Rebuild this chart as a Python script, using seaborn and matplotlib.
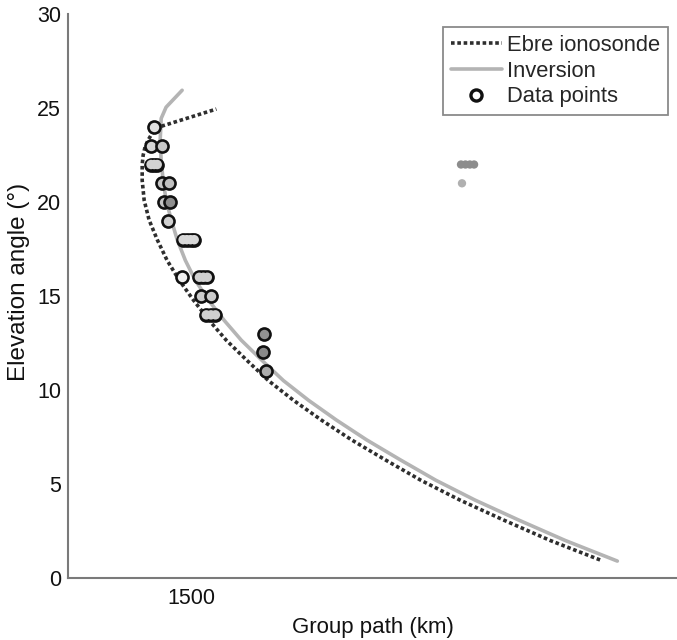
import matplotlib
matplotlib.use("Agg")
import matplotlib.pyplot as plt
import seaborn as sns
import pandas as pd
from matplotlib.lines import Line2D

# ---- data ----
ebre_elev = [0.96, 2.0, 3.1, 4.15, 5.2, 6.3, 7.35, 8.4, 9.45, 10.5, 11.6, 12.65, 13.7,
             14.8, 15.85, 16.9, 18.0, 19.05, 20.1, 21.15, 22.0, 22.5, 22.95, 23.3,
             23.65, 23.95, 24.95]
ebre_gp = [3158, 2955, 2764, 2589, 2431, 2285, 2150, 2028, 1915, 1813, 1724, 1642, 1573,
           1508, 1451, 1402, 1362, 1329, 1309, 1301, 1301, 1305, 1313, 1325,
           1341, 1358, 1602]

inv_elev = [0.9, 2.0, 3.1, 4.15, 5.2, 6.3, 7.35, 8.4, 9.45, 10.5, 11.6, 12.65, 13.7,
            14.8, 15.85, 16.9, 18.0, 19.05, 20.1, 21.15, 22.2, 23.3, 24.45, 25.05, 25.95]
inv_gp = [3228, 3016, 2825, 2650, 2492, 2346, 2211, 2089, 1976, 1874, 1785, 1703, 1634,
          1569, 1516, 1476, 1443, 1419, 1398, 1386, 1378, 1374, 1378, 1398, 1463]

pts_elev = [24, 23, 23, 22, 22, 22, 21, 21, 20, 20, 19, 18, 18, 18, 18,
            16, 16, 16, 16, 15, 15, 14, 14, 14, 13, 12, 11]
pts_gp = [1350, 1337, 1382, 1337, 1350, 1362, 1382, 1411, 1390, 1415, 1406,
          1467, 1482, 1497, 1512, 1463, 1533, 1549, 1565, 1541, 1581,
          1561, 1580, 1598, 1797, 1789, 1805]
pts_group = [1, 2, 3, 4, 4, 4, 5, 6, 7, 8, 9, 10, 10, 10, 10,
             11, 12, 12, 12, 13, 14, 15, 15, 15, 16, 17, 18]
pts_fill = ["#e2e2e2", "#d6d6d6", "#c8c8c8", "#d2d2d2", "#d2d2d2", "#d2d2d2",
            "#c8c8c8", "#c0c0c0", "#c4c4c4", "#8e8e8e", "#d0d0d0",
            "#d8d8d8", "#d8d8d8", "#d8d8d8", "#d8d8d8", "#f0f0f0",
            "#d0d0d0", "#d0d0d0", "#d0d0d0", "#cccccc", "#cccccc",
            "#d0d0d0", "#d0d0d0", "#d0d0d0", "#929292", "#8a8a8a", "#acacac"]

ghost_elev = [22, 22, 22, 22, 21]
ghost_gp = [2594, 2612, 2630, 2647, 2598]
ghost_fill = ["#8c8c8c", "#8c8c8c", "#8c8c8c", "#8c8c8c", "#b0b0b0"]

xticks = [1500, 2000, 2500, 3000]
xtick_labels = ["1500", "", "", ""]
yticks = [0, 5, 10, 15, 20, 25, 30]

# ---- plot ----
sns.set_theme(style="white")
plt.rcParams["font.family"] = ["Liberation Sans", "DejaVu Sans"]

fig = plt.figure(figsize=(6.77, 6.4), dpi=100)
ax = fig.add_axes([0.1004, 0.0969, 0.8996, 0.881])

inv_df = pd.DataFrame({"gp": inv_gp, "elev": inv_elev})
ebre_df = pd.DataFrame({"gp": ebre_gp, "elev": ebre_elev})
sns.lineplot(data=inv_df, x="gp", y="elev", sort=False, estimator=None, ax=ax,
             color="#b4b4b4", lw=2.6, zorder=2)
sns.lineplot(data=ebre_df, x="gp", y="elev", sort=False, estimator=None, ax=ax,
             color="#2e2e2e", lw=2.6, linestyle=(0, (1.0, 0.75)), zorder=3)

ghost_df = pd.DataFrame({"gp": ghost_gp, "elev": ghost_elev, "fill": ghost_fill})
sns.scatterplot(data=ghost_df, x="gp", y="elev", hue="fill",
                palette={c: c for c in set(ghost_fill)}, s=36, linewidth=0,
                legend=False, ax=ax, zorder=4)

pts_df = pd.DataFrame({"gp": pts_gp, "elev": pts_elev, "group": pts_group, "fill": pts_fill})
z = 5
for g, sub in pts_df.groupby("group", sort=True):
    sns.scatterplot(data=sub, x="gp", y="elev", color="#111111", s=112, linewidth=0,
                    legend=False, ax=ax, zorder=z)
    sns.scatterplot(data=sub, x="gp", y="elev", hue="fill",
                    palette={c: c for c in sub["fill"].unique()}, s=46, linewidth=0,
                    legend=False, ax=ax, zorder=z + 0.5)
    z += 1

ax.set_xlim(1000, 3470)
ax.set_ylim(0, 30)
ax.set_xticks(xticks)
ax.set_xticklabels(xtick_labels)
ax.set_yticks(yticks)
ax.set_xlabel("Group path (km)", fontsize=16, color="#111111", labelpad=6)
ax.set_ylabel("Elevation angle (°)", fontsize=17.5, color="#111111")
ax.yaxis.set_label_coords(-0.062, 0.525)
ax.tick_params(axis="both", direction="in", length=6, width=1.2, color="#808080",
               labelsize=15.5, labelcolor="#111111")
ax.tick_params(axis="y", pad=5)
ax.tick_params(axis="x", pad=7)
for side in ["top", "right"]:
    ax.spines[side].set_visible(False)
for side in ["left", "bottom"]:
    ax.spines[side].set_color("#7a7a7a")
    ax.spines[side].set_linewidth(1.5)

handles = [
    Line2D([], [], color="#2e2e2e", lw=2.6, linestyle=(0, (1.0, 0.75))),
    Line2D([], [], color="#b4b4b4", lw=2.6),
    Line2D([], [], color="#111111", marker="o", linestyle="none", markersize=8,
           markerfacecolor="white", markeredgewidth=2.4),
]
leg = ax.legend(handles, ["Ebre ionosonde", "Inversion", "Data points"],
                loc="upper right", bbox_to_anchor=(0.985, 0.977), fontsize=15.8,
                frameon=True, fancybox=False, framealpha=1, edgecolor="#8a8a8a",
                handlelength=2.3, handletextpad=0.25, borderpad=0.35, labelspacing=0.22,
                borderaxespad=0)
leg.get_frame().set_linewidth(1.3)

fig.savefig("out.png", dpi=100)
